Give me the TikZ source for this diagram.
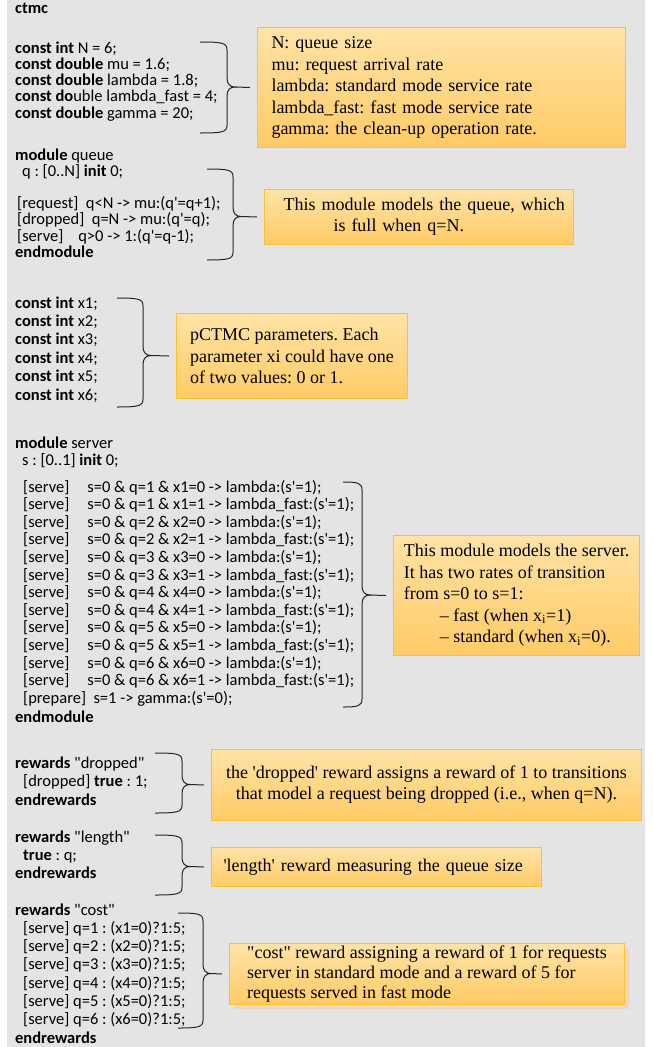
\documentclass[tikz,border=0pt]{standalone}
\usepackage{fontspec}
\setmainfont{Liberation Serif}[Ligatures=TeXOff]
\newfontfamily\codigo{Carlito}[Ligatures=TeXOff]
\usetikzlibrary{shadows}

\definecolor{fondo}{HTML}{E4E4E4}
\definecolor{notaarriba}{HTML}{FFE3A6}
\definecolor{notaabajo}{HTML}{FFCB66}
\definecolor{notaborde}{HTML}{FAC02E}

\begin{document}
\frenchspacing
\begin{tikzpicture}[x=1pt, y=-1pt,
    codigo/.style={anchor=base west, inner sep=0pt, font=\codigo\fontsize{16.5}{19}\selectfont},
    nota/.style={draw=notaborde, line width=1pt, top color=notaarriba, bottom color=notaabajo,
        anchor=north west, align=left, inner ysep=0pt, font=\fontsize{18}{21.5}\selectfont},
    llave/.style={line width=1pt, black!85}]

    \useasboundingbox (0,0) rectangle (653,1047);
    \fill[fondo] (7,0) rectangle (645,1047);

    \node[codigo] (titulo) at (15,13.5) {\textbf{ctmc}};

    % constantes
    \node[codigo] (cN) at (15,53) {\textbf{const int} N = 6;};
    \node[codigo] (cmu) at (15,69.3) {\textbf{const double} mu = 1.6;};
    \node[codigo] (clam) at (15,85.6) {\textbf{const double} lambda = 1.8;};
    \node[codigo] (clf) at (15,101.9) {\textbf{const do}uble lambda\_fast = 4;};
    \node[codigo] (cgam) at (15,118.2) {\textbf{const double} gamma = 20;};

    % modulo queue
    \node[codigo] (mq) at (15,160) {\textbf{module} queue};
    \node[codigo] (mqvar) at (22,176.2) {q : [0..N] \textbf{init} 0;};
    \node[codigo] (mqreq) at (17,208.6) {[request]~~q<N -> mu:(q'=q+1);};
    \node[codigo] (mqdrop) at (17,224.8) {[dropped]~~q=N -> mu:(q'=q);};
    \node[codigo] (mqserv) at (17,241) {[serve]~~~~q>0 -> 1:(q'=q-1);};
    \node[codigo] (mqfin) at (15,257.2) {\textbf{endmodule}};

    % parametros
    \foreach \k in {1,...,6}
        \node[codigo] (par\k) at (15,{308+18.4*(\k-1)}) {\textbf{const int} x\k;};

    % modulo server
    \node[codigo] (ms) at (15,448) {\textbf{module} server};
    \node[codigo] (msvar) at (22,465) {s : [0..1] \textbf{init} 0;};
    \foreach \k in {1,...,6} {
        \node[codigo] (std\k) at (23,{492+35.2*(\k-1)}) {[serve]\hspace{18pt}s=0 \& q=\k{} \& x\k=0 -> lambda:(s'=1);};
        \node[codigo] (fst\k) at (23,{509.6+35.2*(\k-1)}) {[serve]\hspace{18pt}s=0 \& q=\k{} \& x\k=1 -> lambda\_fast:(s'=1);};
    }
    \node[codigo] (msprep) at (23,703.2) {[prepare]~~s=1 -> gamma:(s'=0);};
    \node[codigo] (msfin) at (15,722) {\textbf{endmodule}};

    % recompensas
    \node[codigo] (rd) at (15,768) {\textbf{rewards} "dropped"};
    \node[codigo] (rdl) at (23,786.5) {[dropped] \textbf{true} : 1;};
    \node[codigo] (rdfin) at (15,805) {\textbf{endrewards}};

    \node[codigo] (rl) at (15,842) {\textbf{rewards} "length"};
    \node[codigo] (rll) at (23,860) {\textbf{true} : q;};
    \node[codigo] (rlfin) at (15,878) {\textbf{endrewards}};

    \node[codigo] (rc) at (15,915) {\textbf{rewards} "cost"};
    \foreach \k in {1,...,6}
        \node[codigo] (cst\k) at (23,{915+18.3*\k}) {[serve] q=\k{} : (x\k=0)?1:5;};
    \node[codigo] (rcfin) at (15,1043) {\textbf{endrewards}};

    % notas
    \node[nota, minimum width=368pt, minimum height=120pt, text width=340pt, inner xsep=14pt] (n1) at (257,27)
        {N: queue size\\ mu: request arrival rate\\ lambda: standard mode service rate\\
         lambda\_fast: fast mode service rate\\ gamma: the clean-up operation rate.};
    \node[nota, minimum width=309pt, minimum height=55pt, text width=297pt, inner xsep=6pt,
        font=\fontsize{18}{21}\selectfont] (n2) at (264,189)
        {\hspace*{13pt}This module models the queue, which\\ \hspace*{63pt}is full when q=N.};
    \node[nota, minimum width=231pt, minimum height=85pt] (n3) at (176,313)
        {pCTMC parameters. Each\\ parameter xi could have one\\ of two values: 0 or 1.};
    \node[nota, minimum width=246pt, minimum height=120pt] (n4) at (393,535)
        {This module models the server.\\ It has two rates of transition\\ from s=0 to s=1:\\
         \hspace*{36pt}– fast (when x\textsubscript{i}=1)\\ \hspace*{36pt}– standard (when x\textsubscript{i}=0).};
    \node[nota, align=center, minimum width=430pt, minimum height=71pt,
        font=\fontsize{18}{21}\selectfont] (n5) at (211,749)
        {the 'dropped' reward assigns a reward of 1 to transitions\\ that model a request being dropped (i.e., when q=N).};
    \node[nota, minimum width=330pt, minimum height=39pt, text width=306pt, inner xsep=12pt] (n6) at (211,847)
        {'length' reward measuring the queue size};
    \node[nota, minimum width=395pt, minimum height=61pt, font=\fontsize{18}{20}\selectfont,
        drop shadow={opacity=0.45, fill=orange!45, shadow xshift=4pt, shadow yshift=-4pt}] (n7) at (229,943)
        {"cost" reward assigning a reward of 1 for requests\\ server in standard mode and a reward of 5 for\\ requests served in fast mode};

    % llaves
    \foreach \xa/\xb/\ya/\ym/\yb/\nota in {200/227/42/87/133/n1, 207/233/169/216.5/260/n2,
            117/143/298/355.5/407/n3, 343/362/482/595/707/n4, 155/182/753/784.5/813/n5,
            155/182/835/866.5/895/n6, 178/203/913/973.5/1028/n7} {
        \draw[llave] (\xa,\ya) .. controls (\xb-4,\ya) and (\xb,\ya+1) .. (\xb,\ya+8)
            -- (\xb,\ym-9) .. controls (\xb,\ym-3) and (\xb+3,\ym) .. (\xb+8,\ym)
            .. controls (\xb+3,\ym) and (\xb,\ym+3) .. (\xb,\ym+9)
            -- (\xb,\yb-8) .. controls (\xb,\yb-1) and (\xb-4,\yb) .. (\xa,\yb);
        \draw[llave] (\xb+8,\ym) -- ([xshift=-7pt]\nota.west);
    }
\end{tikzpicture}
\end{document}
